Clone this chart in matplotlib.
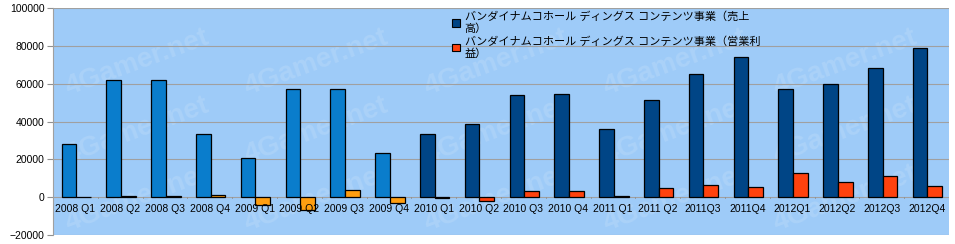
import matplotlib.pyplot as plt
import numpy as np
from matplotlib.patches import Patch

plt.rcParams["font.family"] = ["Liberation Sans", "Noto Sans CJK JP", "DejaVu Sans"]

QUARTERS = [
    "2008 Q1", "2008 Q2", "2008 Q3", "2008 Q4",
    "2009 Q1", "2009 Q2", "2009 Q3", "2009 Q4",
    "2010 Q1", "2010 Q2", "2010 Q3", "2010 Q4",
    "2011 Q1", "2011 Q2", "2011Q3", "2011Q4",
    "2012Q1", "2012Q2", "2012Q3", "2012Q4",
]
SALES = [28000, 61800, 61800, 33300, 20600, 57100, 57100, 23300, 33300, 38600,
         54100, 54600, 35900, 51400, 65000, 74200, 57100, 59900, 68300, 78800]
OP_INCOME = [200, 600, 600, 1000, -4200, -6700, 3700, -3200, -500, -1800,
             3200, 3200, 500, 4800, 6300, 5300, 12700, 7900, 11100, 5800]
LEGEND = [
    "バンダイナムコホール ディングス コンテンツ事業（売上\n高）",
    "バンダイナムコホール ディングス コンテンツ事業（営業利\n益）",
]

# first eight quarters are drawn in lighter colours in the original
SALES_OLD, SALES_NEW = "#0a7dcc", "#004586"
OP_OLD, OP_NEW = "#ff9e10", "#ff420e"
BG = "#9ecbf8"

fig = plt.figure(figsize=(9.55, 2.44), dpi=100)
ax = fig.add_axes([53 / 955, 1 - 235 / 244, 896 / 955, 227 / 244])
ax.set_facecolor(BG)

# faint watermark, kept inside the plot area
for wx in [0.01, 0.21, 0.41, 0.61, 0.80]:
    for wy in [0.16, 0.46, 0.76]:
        ax.text(wx, wy, "4Gamer.net", transform=ax.transAxes, fontsize=20,
                fontweight="bold", color="white", alpha=0.13, rotation=20,
                ha="left", va="center", zorder=0.5, clip_on=True)

x = np.arange(len(QUARTERS))
w = 0.33
n_old = 8
s_colors = [SALES_OLD if i < n_old else SALES_NEW for i in x]
o_colors = [OP_OLD if i < n_old else OP_NEW for i in x]
ax.bar(x - w / 2 + 0.02, SALES, width=w, color=s_colors, edgecolor="black", linewidth=0.9, zorder=3)
ax.bar(x + w / 2 + 0.02, OP_INCOME, width=w, color=o_colors, edgecolor="black", linewidth=0.9, zorder=3)

ax.set_xlim(-0.5, len(QUARTERS) - 0.5)
ax.set_ylim(-20000, 100000)
ax.set_yticks(np.arange(-20000, 100001, 20000))
ax.yaxis.grid(True, color="#a0a0a0", linewidth=0.8, zorder=1)
ax.set_axisbelow(True)
ax.tick_params(axis="y", labelsize=7.5, length=4, color="#909090", pad=2)
for side in ["top", "right", "bottom"]:
    ax.spines[side].set_visible(False)
ax.spines["left"].set_color("#a0a0a0")

ax.set_xticks([])
for xi, lab in zip(x, QUARTERS):
    ax.annotate(lab, (xi, 0), xytext=(0, -5), textcoords="offset points",
                ha="center", va="top", fontsize=7.5, zorder=4)
# small category separators on the zero line
for b in np.arange(0.5, len(QUARTERS) - 0.5, 1):
    ax.plot([b, b], [0, -600], color="#909090", linewidth=0.6, zorder=2)

handles = [
    Patch(facecolor=SALES_NEW, edgecolor="black", linewidth=0.8),
    Patch(facecolor=OP_NEW, edgecolor="black", linewidth=0.8),
]
ax.legend(handles, LEGEND, loc="upper left", bbox_to_anchor=(0.437, 1.02), frameon=False,
          fontsize=8, handlelength=0.7, handleheight=0.7, handletextpad=0.4,
          labelspacing=0.15, borderpad=0.2)

fig.savefig("out.png", dpi=100)
